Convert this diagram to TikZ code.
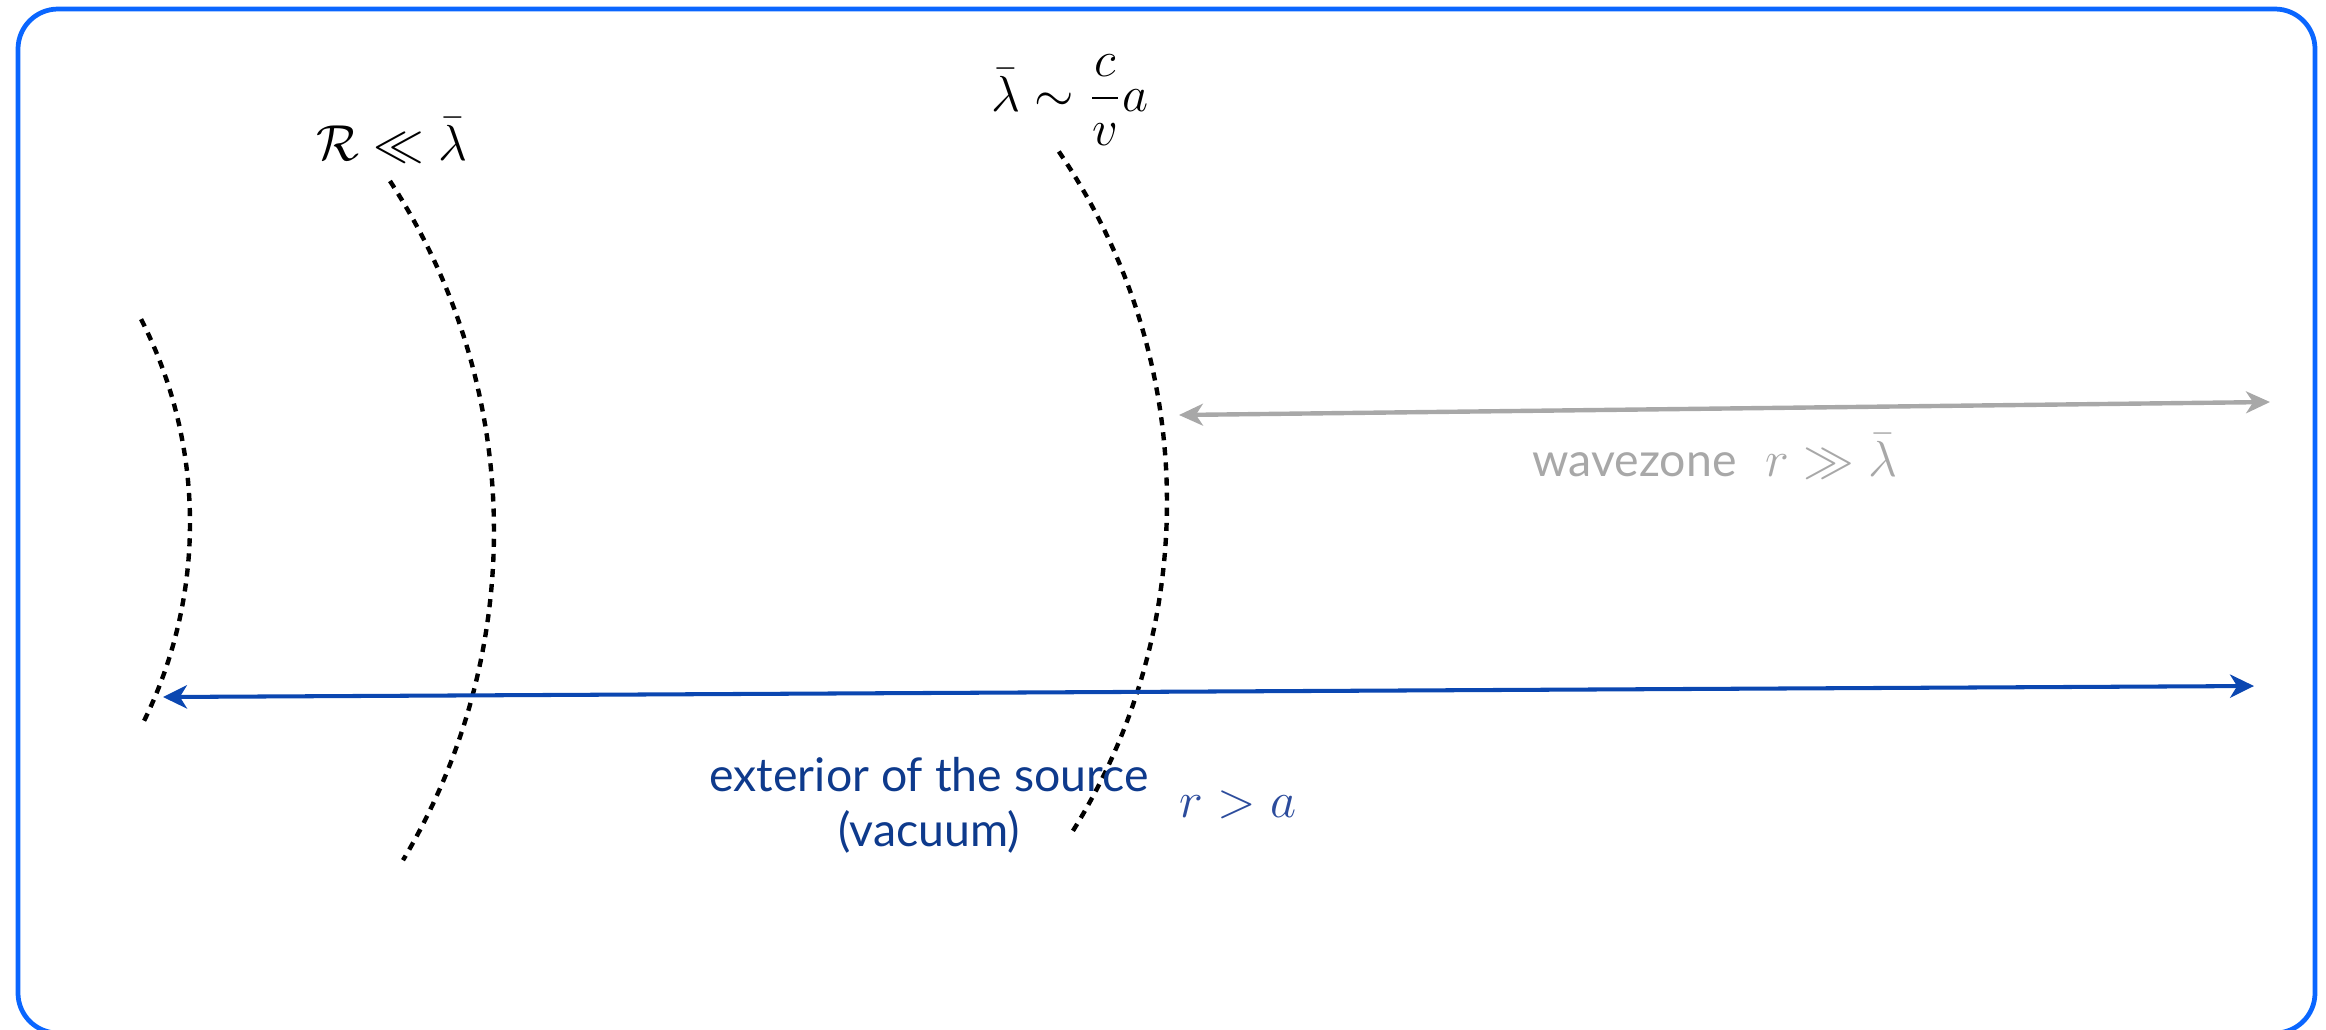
\documentclass[tikz,border=0pt]{standalone}
\usepackage{amsmath,amssymb}
\usepackage{fontspec}
\setmainfont{Lato}
\usepackage{tikz}
\usetikzlibrary{arrows.meta,positioning}
\definecolor{frameblue}{HTML}{0A66FF}
\definecolor{extblue}{HTML}{0B47B1}
\definecolor{srcnavy}{HTML}{0E3A8C}
\definecolor{srcmath}{HTML}{2C4C9C}
\definecolor{zonegray}{HTML}{A8A8A8}
\tikzset{
  outerframe/.style={draw=frameblue,line width=1.35pt,rounded corners=0.4cm},
  zoneline/.style={black,line width=1.25pt,dash pattern=on 2.3pt off 2pt},
  extarrow/.style={{Stealth[length=6.8pt,width=6.6pt,inset=2pt]}-{Stealth[length=6.8pt,width=6.6pt,inset=2pt]},line width=1.15pt,extblue},
  wavearrow/.style={{Stealth[length=6.8pt,width=6.2pt,inset=2pt]}-{Stealth[length=6.8pt,width=6.2pt,inset=2pt]},line width=1.25pt,zonegray},
  mathlabel/.style={font=\fontsize{15}{18}\selectfont,inner sep=0pt,anchor=base},
  graylabel/.style={mathlabel,text=zonegray,anchor=base west},
  navylabel/.style={font=\fontsize{13.2}{15.6}\selectfont,text=srcnavy,align=center,inner sep=0pt,anchor=base}
}
\newcommand{\labeltext}[1]{{\fontsize{13.2}{15.6}\selectfont #1}}

\begin{document}
\begin{tikzpicture}[x=0.01cm,y=-0.01cm]
  \useasboundingbox (0,0) rectangle (2326,1029);
  \draw[outerframe] (18,9) rectangle (2315,1033);
  % zone boundaries: centre x / centre y / radius / start / end
  \foreach \cx/\cy/\r/\a/\b in {-259/523/449/-27/27,-147/531/641/-33.1/30.9,545/502/622/-34.3/32.3}
    \draw[zoneline] (\cx,\cy) ++(\a:\r) arc[start angle=\a,end angle=\b,radius=\r];
  % arrows
  \coordinate (waveL) at (1179,415);
  \coordinate (waveR) at (2270,402);
  \draw[wavearrow] (waveL) -- (waveR);
  \coordinate (extL) at (163,697);
  \coordinate (extR) at (2254,686);
  \draw[extarrow] (extL) -- (extR);
  % labels
  \node[mathlabel] (nearzone) at (392,160) {$\mathcal{R}\ll\bar\lambda$};
  \node[mathlabel] (lambdabar) at (1070,111) {$\displaystyle\bar\lambda\sim\frac{c}{v}a$};
  \node[graylabel] (wavezone) at (1532,476) {\labeltext{wavezone}\hspace{0.55em}$r\gg\bar\lambda$};
  \node[navylabel] (exterior) at (929,846) {exterior of the source\\(vacuum)};
  \node[mathlabel,text=srcmath,anchor=base west] (rgta) at (1179,817) {$r>a$};
\end{tikzpicture}
\end{document}
